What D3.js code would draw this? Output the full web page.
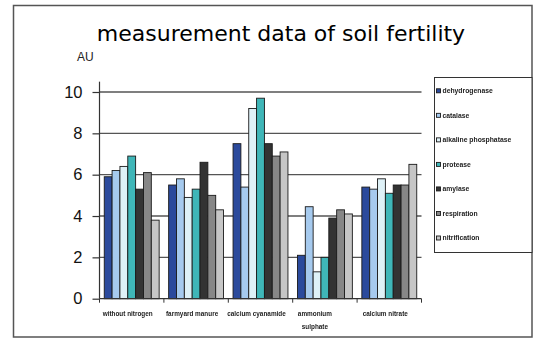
<!DOCTYPE html>
<html><head><meta charset="utf-8">
<script src="https://cdn.jsdelivr.net/npm/d3@7"></script>
<style>body{margin:0;background:#fff}svg{display:block}</style>
</head><body><svg id="c" width="546" height="342"></svg>
<script>
const categories = ["without nitrogen","farmyard manure","calcium cyanamide","ammonium sulphate","calcium nitrate"];
const categoryLines = [["without nitrogen"],["farmyard manure"],["calcium cyanamide"],["ammonium","sulphate"],["calcium nitrate"]];
const series = ["dehydrogenase","catalase","alkaline phosphatase","protease","amylase","respiration","nitrification"];
const dehydrogenase = [5.9, 5.5, 7.5, 2.1, 5.4];
const catalase = [6.2, 5.8, 5.4, 4.45, 5.3];
const alkalinePhosphatase = [6.4, 4.9, 9.2, 1.3, 5.8];
const protease = [6.9, 5.3, 9.7, 2.0, 5.1];
const amylase = [5.3, 6.6, 7.5, 3.9, 5.5];
const respiration = [6.1, 5.0, 6.9, 4.3, 5.5];
const nitrification = [3.8, 4.3, 7.1, 4.1, 6.5];
const yTicks = [0, 2, 4, 6, 8, 10];
const colors = ["#2b4a9c","#a6caee","#def1f7","#3fb6b8","#333333","#878787","#c6c6c6"];
const values = [dehydrogenase, catalase, alkalinePhosphatase, protease, amylase, respiration, nitrification];

const svg = d3.select("#c");
const defs = svg.append("defs");
defs.append("filter").attr("id","gray").append("feColorMatrix").attr("type","saturate").attr("values",0);

// outer frame
svg.append("rect").attr("x",13.5).attr("y",5.5).attr("width",518.5).attr("height",331.5)
  .attr("fill","none").attr("stroke","#555").attr("stroke-width",1.5);

svg.append("text").attr("x",281).attr("y",41).attr("text-anchor","middle")
  .attr("font-family","DejaVu Sans").attr("font-size",22).attr("fill","#000")
  .text("measurement data of soil fertility");
svg.append("text").attr("x",77).attr("y",61).attr("font-family","Liberation Sans, Arial")
  .attr("font-size",12).attr("fill","#222").text("AU");

const x0 = d3.scaleBand().domain(categories).range([99.5, 421.5]).padding(0);
const x1 = d3.scaleBand().domain(series).range([4.75, x0.bandwidth()-4.75]).padding(0);
const y = d3.scaleLinear().domain([0, 10]).range([298.7, 92]);

// gridlines
svg.append("g").selectAll("line").data(yTicks.filter(t=>t>0)).join("line")
  .attr("x1",x0.range()[0]).attr("x2",x0.range()[1])
  .attr("y1",d=>y(d)).attr("y2",d=>y(d)).attr("stroke","#555").attr("stroke-width",1.3);

// y axis
const yAxis = svg.append("g").attr("transform",`translate(${x0.range()[0]},0)`)
  .call(d3.axisLeft(y).tickValues(yTicks).tickSize(7).tickPadding(10).tickFormat(d3.format("d")));
yAxis.select(".domain").remove();
yAxis.append("line").attr("x1",0).attr("x2",0).attr("y1",y(10.5)).attr("y2",y(0)).attr("stroke","#333").attr("stroke-width",1.2);
yAxis.selectAll(".tick line").attr("stroke","#333").attr("stroke-width",1.2);
yAxis.selectAll(".tick text").attr("font-family","Liberation Sans, Arial").attr("font-size",16.5).attr("fill","#111");

// bars
const groups = svg.append("g").selectAll("g").data(categories).join("g")
  .attr("transform",d=>`translate(${x0(d)},0)`);
groups.selectAll("rect").data((c,ci)=>series.map((s,si)=>({s,si,v:values[si][ci]}))).join("rect")
  .attr("x",d=>x1(d.s)).attr("width",x1.bandwidth())
  .attr("y",d=>y(d.v)).attr("height",d=>y(0)-y(d.v))
  .attr("fill",d=>colors[d.si]).attr("stroke","#1a1a1a").attr("stroke-width",0.9);

// x axis
const xg = svg.append("g");
xg.append("line").attr("x1",x0.range()[0]).attr("x2",x0.range()[1]).attr("y1",y(0)).attr("y2",y(0))
  .attr("stroke","#333").attr("stroke-width",1.2);
const boundaries = categories.map(c=>x0(c)).concat([x0.range()[1]]);
xg.selectAll("line.t").data(boundaries).join("line").attr("class","t")
  .attr("x1",d=>d).attr("x2",d=>d).attr("y1",y(0)).attr("y2",y(0)+4).attr("stroke","#333").attr("stroke-width",1);
const xl = xg.append("g").attr("filter","url(#gray)");
categories.forEach((c,i)=>{
  const lines = categoryLines[i];
  const cx = x0(c)+x0.bandwidth()/2 - (lines.length>1?10:4);
  lines.forEach((ln,j)=>{
    xl.append("text").attr("x",cx).attr("y",315.5+j*13.5).attr("text-anchor","middle")
      .attr("font-family","Liberation Sans, Arial").attr("font-weight","bold").attr("font-size",6.4)
      .attr("fill","#222").text(ln);
  });
});

// legend
const lg = svg.append("g");
lg.append("rect").attr("x",434.5).attr("y",77.5).attr("width",97.5).attr("height",175)
  .attr("fill","#fff").attr("stroke","#333").attr("stroke-width",1);
const ly = d3.scalePoint().domain(series).range([90.8, 238]);
const lt = lg.append("g").attr("filter","url(#gray)");
series.forEach((s,i)=>{
  lg.append("rect").attr("x",436.5).attr("y",ly(s)-2).attr("width",4).attr("height",4)
    .attr("fill",colors[i]).attr("stroke","#1a1a1a").attr("stroke-width",0.9);
  lt.append("text").attr("x",442.5).attr("y",ly(s)+2.3).attr("font-family","Liberation Sans, Arial")
    .attr("font-weight","bold").attr("font-size",6.8).attr("fill","#222").text(s);
});
</script></body></html>
